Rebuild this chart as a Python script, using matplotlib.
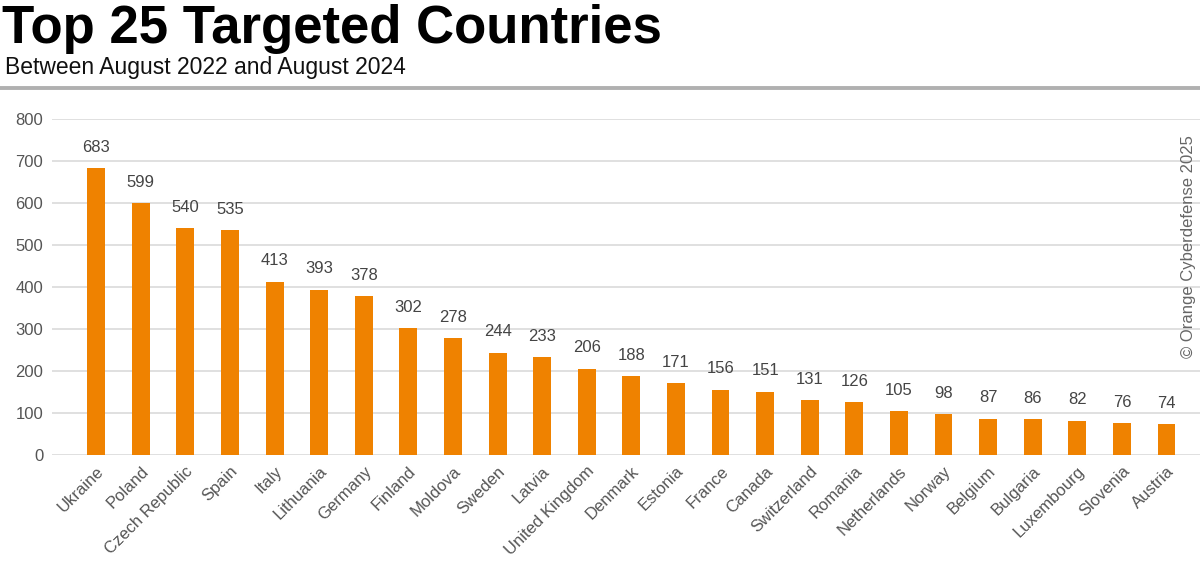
import matplotlib
matplotlib.use("Agg")
import matplotlib.pyplot as plt
from matplotlib.lines import Line2D

countries = ["Ukraine", "Poland", "Czech Republic", "Spain", "Italy", "Lithuania",
             "Germany", "Finland", "Moldova", "Sweden", "Latvia", "United Kingdom",
             "Denmark", "Estonia", "France", "Canada", "Switzerland", "Romania",
             "Netherlands", "Norway", "Belgium", "Bulgaria", "Luxembourg", "Slovenia",
             "Austria"]
values = [683, 599, 540, 535, 413, 393, 378, 302, 278, 244, 233, 206, 188, 171,
          156, 151, 131, 126, 105, 98, 87, 86, 82, 76, 74]
yticks = [0, 100, 200, 300, 400, 500, 600, 700, 800]

plt.rcParams['font.family'] = ['Liberation Sans', 'DejaVu Sans']

fig = plt.figure(figsize=(12, 5.74), dpi=100)
ax = fig.add_axes([0.043, 0.207, 0.957, 0.586])

x = list(range(len(countries)))
ax.bar(x, values, width=0.4, color='#EF8200', zorder=3)
for xi, v in zip(x, values):
    ax.text(xi, v + 32, str(v), ha='center', va='bottom', fontsize=12, color='#444444')

ax.set_ylim(0, 800)
ax.set_xlim(-1.0, 24.75)
ax.set_yticks(yticks)
ax.set_yticklabels([str(t) for t in yticks], fontsize=12, color='#555555')
ax.yaxis.grid(True, color='#dddddd', linewidth=1.3, zorder=0)
ax.set_xticks(x)
ax.set_xticklabels(countries, rotation=45, ha='right', rotation_mode='anchor',
                   fontsize=12, color='#555555')
ax.tick_params(axis='both', length=0, pad=6)
for s in ax.spines.values():
    s.set_visible(False)

fig.text(0.002, 0.993, "Top 25 Targeted Countries", fontsize=38, fontweight='bold',
         ha='left', va='top', color='#000000')
fig.text(0.004, 0.903, "Between August 2022 and August 2024", fontsize=16.5,
         ha='left', va='top', color='#111111')
fig.add_artist(Line2D([0, 1], [0.846, 0.846], transform=fig.transFigure,
                      color='#b0b0b0', linewidth=2.8))
fig.text(0.990, 0.57, "© Orange Cyberdefense 2025", rotation=90, fontsize=12,
         ha='center', va='center', color='#666666')

fig.savefig("out.png", dpi=100)
